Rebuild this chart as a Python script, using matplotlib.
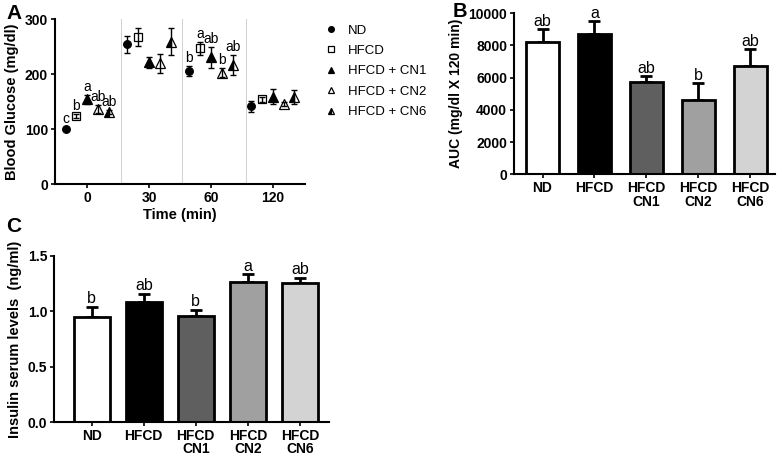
import numpy as np
import matplotlib
matplotlib.use("Agg")
import matplotlib.pyplot as plt

plt.rcParams['font.family'] = ['Liberation Sans', 'DejaVu Sans']
plt.rcParams['font.weight'] = 'bold'

# panel A data: blood glucose (mg/dl) per time point
times = ['0', '30', '60', '120']
groups = ['ND', 'HFCD', 'HFCD + CN1', 'HFCD + CN2', 'HFCD + CN6']
glu_nd = [101, 254, 206, 142]
glu_hfcd = [124, 267, 247, 154]
glu_cn1 = [154, 222, 231, 159]
glu_cn2 = [137, 220, 203, 146]
glu_cn6 = [131, 259, 216, 159]
err_nd = [3, 15, 9, 10]
err_hfcd = [4, 16, 12, 4]
err_cn1 = [8, 10, 19, 14]
err_cn2 = [7, 17, 8, 4]
err_cn6 = [4, 24, 18, 13]
letters_t0 = ['c', 'b', 'a', 'ab', 'ab']
letters_t60 = ['b', 'a', 'ab', 'b', 'ab']

# panel B / C data
bar_labels = ['ND', 'HFCD', 'HFCD\nCN1', 'HFCD\nCN2', 'HFCD\nCN6']
auc = [8200, 8700, 5750, 4600, 6700]
auc_err = [800, 800, 330, 1050, 1050]
auc_letters = ['ab', 'a', 'ab', 'b', 'ab']
insulin = [0.95, 1.087, 0.96, 1.265, 1.252]
insulin_err = [0.09, 0.07, 0.055, 0.068, 0.05]
ins_letters = ['b', 'ab', 'b', 'a', 'ab']

bar_colors = ['white', 'black', '#5f5f5f', '#a0a0a0', '#d3d3d3']

fig = plt.figure(figsize=(7.77, 4.55), dpi=100)

# ---- A ----
axA = fig.add_axes([0.0708, 0.595, 0.3217, 0.363])
means = [glu_nd, glu_hfcd, glu_cn1, glu_cn2, glu_cn6]
errs = [err_nd, err_hfcd, err_cn1, err_cn2, err_cn6]
styles = [dict(marker='o', mfc='black', ms=5.5),
          dict(marker='s', mfc='white', ms=5.5),
          dict(marker='^', mfc='black', ms=6.5),
          dict(marker='^', mfc='white', ms=6.5),
          dict(marker='^', mfc='black', fillstyle='left', markerfacecoloralt='white', ms=6.5)]
xc = np.arange(len(times))
off = 0.175
for i, (m, e, st) in enumerate(zip(means, errs, styles)):
    x = xc + (i - 2) * off
    axA.errorbar(x, m, yerr=e, fmt='none', ecolor='black', elinewidth=1, capsize=2, capthick=1, zorder=4)
    axA.plot(x, m, linestyle='none', color='black', mec='black', mew=0.9, zorder=3, label=groups[i], **st)
    axA.text(x[0], m[0] + e[0] + 2, letters_t0[i], ha='center', va='bottom', fontsize=10, fontweight='normal')
    axA.text(x[2], m[2] + e[2] + 2, letters_t60[i], ha='center', va='bottom', fontsize=10, fontweight='normal')
for s in [0.55, 1.53, 2.56]:
    axA.axvline(s, color='#d0d0d0', lw=0.7, zorder=1)
axA.set_xlim(-0.52, 3.52)
axA.set_ylim(0, 300)
axA.set_yticks([0, 100, 200, 300])
axA.set_xticks(xc)
axA.set_xticklabels(times)
axA.set_xlabel('Time (min)', fontsize=10.5, fontweight='bold', labelpad=2)
axA.set_ylabel('Blood Glucose (mg/dl)', fontsize=10.5, fontweight='bold', labelpad=4)
leg = axA.legend(loc='upper left', bbox_to_anchor=(1.03, 1.04), frameon=False, fontsize=9.5,
                 handletextpad=0.8, labelspacing=0.62, markerscale=0.75, handlelength=1.0)
for t in leg.get_texts():
    t.set_fontweight('normal')
fig.text(0.008, 0.958, 'A', fontsize=15, fontweight='bold')


def bar_panel(ax, vals, errv, lets, lpad, width):
    x = np.arange(len(vals))
    ax.bar(x, vals, width=width, color=bar_colors, edgecolor='black', linewidth=2, zorder=2)
    ax.errorbar(x, vals, yerr=[np.zeros(len(errv)), errv], fmt='none', ecolor='black',
                elinewidth=2, capsize=4.5, capthick=2, zorder=1)
    for xi, v, e, l in zip(x, vals, errv, lets):
        ax.text(xi, v + e + lpad, l, ha='center', va='bottom', fontsize=11.5, fontweight='normal')
    ax.set_xticks(x)
    ax.set_xticklabels(bar_labels, linespacing=0.95)


# ---- B ----
axB = fig.add_axes([0.6615, 0.617, 0.336, 0.354])
bar_panel(axB, auc, auc_err, auc_letters, 30, 0.64)
axB.set_xlim(-0.55, 4.48)
axB.set_ylim(0, 10000)
axB.set_yticks(range(0, 10001, 2000))
axB.set_ylabel('AUC (mg/dl X 120 min)', fontsize=10, fontweight='bold', labelpad=4)
fig.text(0.582, 0.962, 'B', fontsize=14.5, fontweight='bold')

# ---- C ----
axC = fig.add_axes([0.0699, 0.0725, 0.3535, 0.365])
bar_panel(axC, insulin, insulin_err, ins_letters, 0.005, 0.69)
axC.set_xlim(-0.72, 4.56)
axC.set_ylim(0, 1.5)
axC.set_yticks([0, 0.5, 1.0, 1.5])
axC.set_ylabel('Insulin serum levels  (ng/ml)', fontsize=10.5, fontweight='bold', labelpad=4)
fig.text(0.008, 0.49, 'C', fontsize=15, fontweight='bold')

for ax in [axA, axB, axC]:
    for sp in ['top', 'right']:
        ax.spines[sp].set_visible(False)
    for sp in ['left', 'bottom']:
        ax.spines[sp].set_linewidth(1.5)
    ax.tick_params(width=1.2, length=3, labelsize=10, pad=2)
    for t in ax.get_xticklabels() + ax.get_yticklabels():
        t.set_fontweight('bold')

fig.savefig('out.png', dpi=100)
